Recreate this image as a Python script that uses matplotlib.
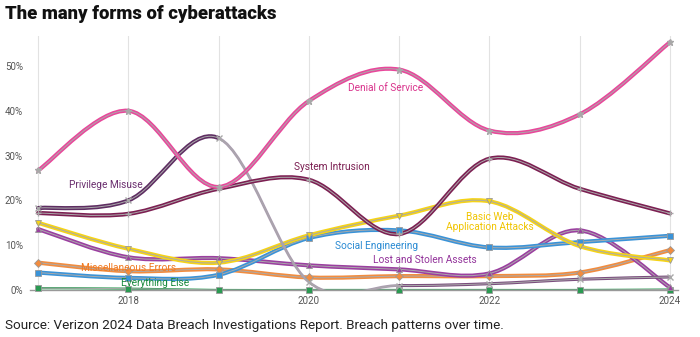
import matplotlib
matplotlib.use("Agg")
import matplotlib.pyplot as plt
from matplotlib.path import Path
from matplotlib.patches import PathPatch
import numpy as np

plt.rcParams['font.family'] = ['Roboto', 'DejaVu Sans']

years = [2017, 2018, 2019, 2020, 2021, 2022, 2023, 2024]

denial_of_service = [26.7, 40.0, 23.0, 42.2, 49.2, 35.6, 39.2, 55.3]
system_intrusion = [17.2, 17.0, 22.6, 24.6, 12.5, 29.3, 22.6, 17.1]
privilege_misuse = [18.3, 20.0, 33.9, 1.8, 1.0, 1.4, 2.4, 2.9]
basic_web = [15.0, 9.2, 6.1, 12.2, 16.6, 19.8, 9.8, 6.6]
social_eng = [3.9, 2.7, 3.4, 11.6, 13.3, 9.5, 10.7, 12.1]
lost_stolen = [13.6, 7.3, 7.1, 5.5, 4.6, 3.7, 13.3, 0.6]
misc_errors = [6.1, 4.2, 4.6, 2.8, 3.1, 3.1, 3.9, 8.9]
everything_else = [0.4, 0.3, 0.0, 0.0, 0.0, 0.0, 0.0, 0.1]

series = [
    ("Everything Else", everything_else, "#2a9a52", "s", "#1a8a3e"),
    ("Miscellaneous Errors", misc_errors, "#f28c3e", "D", "#f07a22"),
    ("Lost and Stolen Assets", lost_stolen, "#9b3fa0", "^", "#92329a"),
    ("Social Engineering", social_eng, "#3a93d8", "s", "#2b8bd3"),
    ("Basic Web\nApplication Attacks", basic_web, "#f5d318", "v", "#f0c400"),
    ("Privilege Misuse", privilege_misuse, "#5e2d62", "x", "#6a2e6e"),
    ("System Intrusion", system_intrusion, "#7c1f52", "+", "#7b1f52"),
    ("Denial of Service", denial_of_service, "#e8489b", "*", "#d9338c"),
]

# some stretches are drawn faded in the original
faded = {"Privilege Misuse": [(2, 4, "#aa9bb0", 2.0), (4, 7, "#7a4e7d", 2.2)]}

# label anchor (year, percent)
label_pos = {
    "Everything Else": (2018.3, 1.5),
    "Miscellaneous Errors": (2018.0, 5.0),
    "Lost and Stolen Assets": (2021.29, 6.7),
    "Social Engineering": (2020.75, 9.9),
    "Basic Web\nApplication Attacks": (2022.0, 15.2),
    "Privilege Misuse": (2017.75, 23.4),
    "System Intrusion": (2020.26, 27.5),
    "Denial of Service": (2020.85, 45.0),
}


def smooth_path(xs, ys, start=0, stop=None):
    # catmull-rom style cubic bezier through the points
    n = len(xs)
    if stop is None:
        stop = n - 1
    verts = [(xs[start], ys[start])]
    codes = [Path.MOVETO]
    for i in range(start, stop):
        a = max(i - 1, 0)
        d = min(i + 2, n - 1)
        c1 = (xs[i] + (xs[i + 1] - xs[a]) / 6, ys[i] + (ys[i + 1] - ys[a]) / 6)
        c2 = (xs[i + 1] - (xs[d] - xs[i]) / 6, ys[i + 1] - (ys[d] - ys[i]) / 6)
        verts += [c1, c2, (xs[i + 1], ys[i + 1])]
        codes += [Path.CURVE4] * 3
    return Path(verts, codes)


fig = plt.figure(figsize=(7, 3.37), dpi=100)
ax = fig.add_axes([30 / 700, 47 / 337, 648 / 700, 254 / 337])

for y in years:
    ax.axvline(y, color="#e2e2e2", lw=0.8, zorder=0)

for name, vals, col, mk, tcol in series:
    lw = 1.6 if name == "Everything Else" else 3.0
    parts = [(0, len(years) - 1, col, lw)]
    if name in faded:
        parts = [(0, faded[name][0][0], col, lw)] + faded[name]
    for s0, s1, c, w in parts:
        p = smooth_path(years, vals, s0, s1)
        ax.add_patch(PathPatch(p, fill=False, edgecolor=c, lw=w, zorder=2,
                               capstyle="round"))
    p = smooth_path(years, vals)
    ax.add_patch(PathPatch(p, fill=False, edgecolor="#ababab", lw=0.7, zorder=2))
    if mk in ("x", "+", "*"):
        ax.plot(years, vals, ls="none", marker=mk, ms=5, color="#a8a8a8",
                mew=1.0, zorder=3, clip_on=False)
    else:
        ax.plot(years, vals, ls="none", marker=mk, ms=4, markerfacecolor=col,
                markeredgecolor="#9a9a9a", mew=0.6, zorder=3, clip_on=False)
    lx, ly = label_pos[name]
    ax.text(lx, ly, name, color=tcol, fontsize=7.3, ha="center", va="center",
            multialignment="center", linespacing=1.05, zorder=4)

ax.set_xlim(2016.91, 2024.09)
ax.set_ylim(0, 56.7)
ax.set_yticks([0, 10, 20, 30, 40, 50])
ax.set_yticklabels(["0%", "10%", "20%", "30%", "40%", "50%"])
ax.set_xticks([2018, 2020, 2022, 2024])
ax.set_xticklabels(["2018", "2020", "2022", "2024"])
ax.tick_params(length=0, labelsize=7, colors="#555555", pad=4)
ax.tick_params(axis="y", pad=5)
for s in ["top", "right", "left"]:
    ax.spines[s].set_visible(False)
ax.spines["bottom"].set_color("#999999")
ax.spines["bottom"].set_linewidth(1.0)

fig.text(5 / 700, 1 - 5 / 337, "The many forms of cyberattacks", fontsize=13.3,
         fontweight="heavy", va="top", ha="left", color="#111111")
fig.text(5 / 700, 1 - 325 / 337,
         "Source: Verizon 2024 Data Breach Investigations Report. Breach patterns over time.",
         fontsize=9.7, va="center", ha="left", color="#222222")

fig.savefig("out.png", dpi=100)
